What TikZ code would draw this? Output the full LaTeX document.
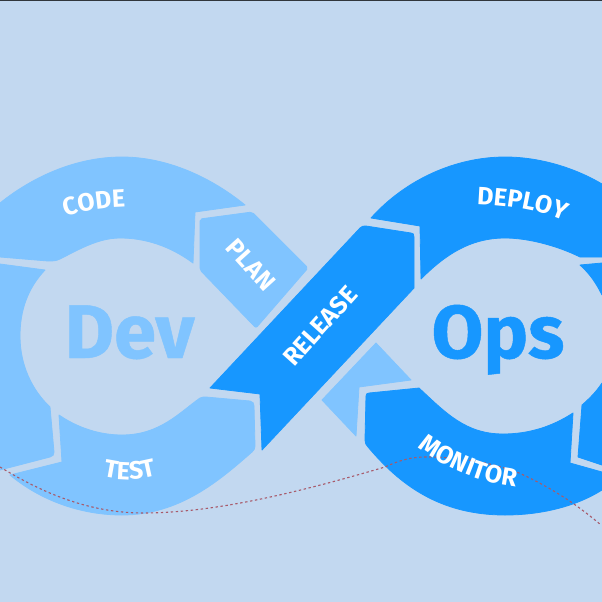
\documentclass[tikz,border=0pt]{standalone}
\usepackage{fontspec}
\usetikzlibrary{decorations.text}
\setmainfont{Fira Sans}
\definecolor{bgblue}{HTML}{C2D8F0}
\definecolor{lightblue}{HTML}{80C4FF}
\definecolor{darkblue}{HTML}{1797FF}
\definecolor{dotred}{HTML}{A85A6A}
\newcommand{\ringfont}{\fontsize{25}{25}\selectfont\bfseries}
\newcommand{\arcword}[1]{|\ringfont|#1}
\tikzset{
  lightpiece/.style={fill=lightblue,draw=lightblue,line width=0.8pt,line join=round},
  darkpiece/.style={fill=darkblue,draw=darkblue,line width=0.8pt,line join=round},
  ringlabel/.style={text=white,font=\ringfont,inner sep=0pt},
  arclabel/.style={decorate,decoration={text along path,text align=center,text color=white,text={#1}}},
  biglight/.style={text=lightblue,anchor=base,font=\fontsize{76}{76}\selectfont\bfseries\addfontfeature{FakeBold=0.6},inner sep=0pt},
  bigdark/.style={text=darkblue,anchor=base,font=\fontsize{75}{75}\selectfont\bfseries\addfontfeature{FakeBold=0.6},inner sep=0pt},
  dotline/.style={draw=dotred,line width=1.1pt,dash pattern=on 2.4pt off 2.6pt}
}
\begin{document}
\begin{tikzpicture}[x=1pt,y=-1pt]
\useasboundingbox (0,0) rectangle (602,602);
\fill[bgblue] (0,0) rectangle (602,602);
\draw[black!75!bgblue,line width=1pt] (0,0.5) -- (602,0.5);
% CODE
\path[lightpiece] (0,203) .. controls (35,175) and (78,157) .. (122,157)
  .. controls (168,157) and (212,178) .. (245,205) -- (195,212) -- (193,263)
  .. controls (170,246) and (145,238) .. (120,238)
  .. controls (98,238) and (78,250) .. (60,259) .. controls (56,261) and (53,261) .. (48,261) -- (0,257) -- cycle;
% left piece
\path[lightpiece] (0,264) -- (45,270) .. controls (28,288) and (20,310) .. (20,336)
  .. controls (20,365) and (32,390) .. (50,407) -- (54,452) .. controls (54,455) and (53,456) .. (50,457) -- (0,470) -- cycle;
% TEST
\path[lightpiece] (10,475) -- (62,462) -- (59,415)
  .. controls (78,428) and (100,435) .. (122,435)
  .. controls (160,435) and (180,412) .. (200,398) .. controls (202,397) and (204,397) .. (206,397) -- (250,401) .. controls (253,402) and (254,403) .. (254,406) -- (255,446) .. controls (255,449) and (254,450) .. (252,452)
  .. controls (220,480) and (180,515) .. (122,515)
  .. controls (80,515) and (40,500) .. (10,475) -- cycle;
% PLAN
\path[lightpiece,rounded corners=2pt] (200,219) -- (252,212) -- (308,268) -- (256,328) -- (200,270) -- cycle;
% RELEASE
\path[darkpiece] (210,388) -- (260,394) -- (262,450) -- (414,288) -- (414,237) .. controls (414,234) and (413,233) .. (411,233) -- (366,226) .. controls (363,226) and (362,226) .. (360,228) -- cycle;
% DEPLOY
\path[darkpiece] (371,218) .. controls (405,180) and (455,157) .. (505,157)
  .. controls (540,157) and (575,168) .. (602,184) -- (602,257) -- (580,257)
  .. controls (560,247) and (530,238) .. (505,238)
  .. controls (470,238) and (445,255) .. (421,279) -- (420,226) -- cycle;
% right pieces
\path[darkpiece] (580,265) -- (602,263) -- (602,295) .. controls (596,283) and (590,274) .. (580,265) -- cycle;
\path[darkpiece] (602,383) .. controls (596,392) and (590,398) .. (582,405) -- (578,457) -- (602,465) -- cycle;
% MONITOR
\path[darkpiece] (369,393) -- (419,388)
  .. controls (445,412) and (465,434) .. (503,434)
  .. controls (530,434) and (553,426) .. (573,413) -- (570,463) -- (602,472) -- (602,490)
  .. controls (575,507) and (540,515) .. (505,515)
  .. controls (440,515) and (400,485) .. (368,447) .. controls (366,445) and (365,443) .. (365,440) -- (366,396) .. controls (366,394) and (367,393) .. (369,393) -- cycle;
% light triangle
\path[lightpiece] (376,343) -- (411,380) -- (359,387) -- (356,436) -- (322,400) -- cycle;
% dotted curve
\coordinate (dotstart) at (0,467);
\coordinate (dotend) at (601,525);
\draw[dotline] (dotstart) .. controls (30,485) and (80,513) .. (143,513)
  .. controls (210,513) and (290,495) .. (385,467)
  .. controls (400,460) and (412,457) .. (425,457)
  .. controls (460,457) and (490,462) .. (519,473)
  .. controls (550,487) and (575,503) .. (dotend);
% texts
\node[biglight] (dev) at (129.5,358) {Dev};
\node[bigdark] (ops) at (498,358) {Ops};
\path[arclabel={\arcword{CODE}}] (61.5,218) .. controls (81.5,211) and (106.5,207) .. (129.5,207);
\node[ringlabel,rotate=-48] (plan) at (251,265) {PLAN};
\node[ringlabel,rotate=48] (release) at (320,326) {RELEASE};
\path[arclabel={\arcword{DEPLOY}}] (474,204) .. controls (504,205) and (539,209) .. (567,222);
\path[arclabel={\arcword{MONITOR}}] (411,442) .. controls (441,466) and (481,485) .. (524,488);
\path[arclabel={\arcword{TEST}}] (101,476) .. controls (119,481) and (141,481) .. (159,475);
\end{tikzpicture}
\end{document}
